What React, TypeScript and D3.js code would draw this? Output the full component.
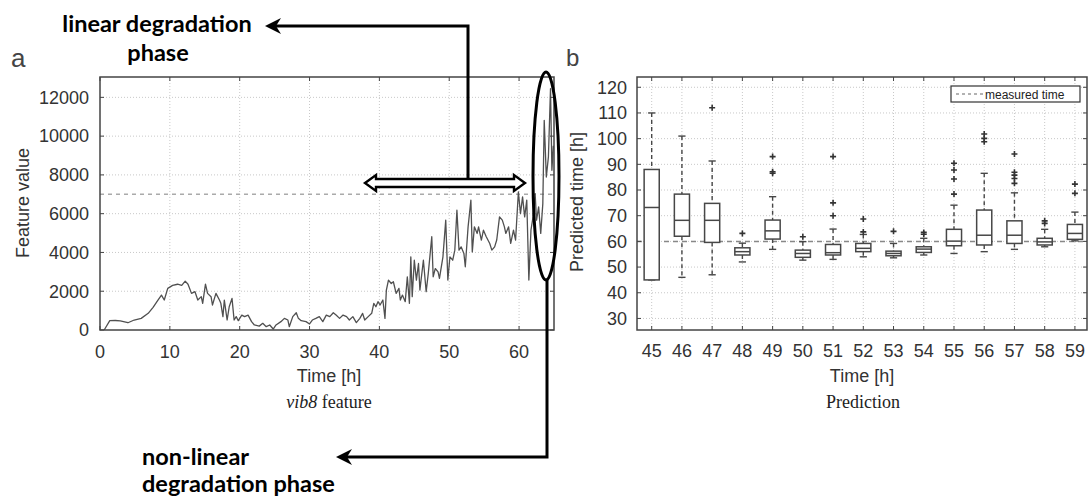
import React from "react";
import * as d3 from "d3";

// ---- Panel a: vib8 feature over time ----
const featureTime = [0.6,1.4,2.2,2.9,4.0,4.9,5.9,6.9,7.6,8.3,8.8,9.2,9.7,10.4,11.1,11.7,12.2,12.6,13.1,13.6,14.0,14.5,14.7,15.1,15.4,15.9,16.1,16.6,17.1,17.3,17.6,17.8,18.2,18.5,18.9,19.2,19.5,19.8,20.3,20.7,21.2,21.7,22.1,22.8,23.3,23.8,24.3,24.8,25.2,25.9,26.4,26.9,27.1,27.6,28.1,28.4,28.8,29.5,30.0,30.4,30.9,31.4,31.9,32.4,32.9,33.4,33.8,34.3,34.8,35.3,35.7,36.2,36.7,37.2,37.6,37.9,38.4,38.9,39.2,39.5,39.8,40.1,40.5,40.8,41.0,41.3,41.7,42.0,42.4,42.8,43.0,43.3,43.7,44.0,44.3,44.5,44.7,45.0,45.3,45.6,45.8,46.3,46.7,47.0,47.5,47.7,48.0,48.4,48.6,49.1,49.5,49.8,50.1,50.5,50.8,51.1,51.4,51.7,52.1,52.3,52.7,53.1,53.3,53.6,54.0,54.2,54.6,54.9,55.3,55.8,56.1,56.5,56.8,57.2,57.6,57.9,58.1,58.5,58.8,59.2,59.5,59.9,60.2,60.5,60.8,61.1,61.4,61.7,62.0,62.3,62.5,62.8,63.1,63.4,63.6,63.9,64.2,64.5,64.7,64.9];
const featureValue = [0,480,490,470,375,515,600,860,1170,1545,1800,1545,2145,2300,2360,2300,2520,2360,1890,1975,1545,1720,1375,2370,1890,1720,1290,1890,1545,1375,690,1545,515,1200,1630,515,690,480,770,690,770,430,260,200,345,170,260,50,260,430,600,515,170,690,890,600,480,430,310,515,600,690,430,770,690,890,770,600,770,690,515,690,380,600,860,515,690,860,1375,1200,1460,1290,1545,600,2060,2575,2400,2490,1890,2145,1545,1800,1460,2745,1375,3775,1720,3600,2575,3430,2060,3600,1975,2920,4810,2745,3170,3000,2660,3775,5665,2575,3775,3600,4120,6180,4120,4290,3950,3260,5320,6700,4030,5320,4980,5320,4640,5150,4810,4465,4120,4290,4640,5835,5665,5320,4980,5320,4465,5150,4640,7120,6000,6870,5835,6700,2575,5150,5835,7030,5665,6350,4980,6520,10815,7890,8930,12450,8240,9500];
const featureXTicks = [0,10,20,30,40,50,60];
const featureYTicks = [0,2000,4000,6000,8000,10000,12000];
const thresholdValue = 7000;

// ---- Panel b: predicted time boxplots ----
const predHours = [45,46,47,48,49,50,51,52,53,54,55,56,57,58,59];
const whiskerLow = [45,46,47,52,56.9,52.7,53,54,53.6,54.7,55.3,56,56.9,57.9,60.2];
const q1 = [45,62,59.6,54.7,60.9,53.8,54.7,56,54.4,55.7,58.3,58.6,59.2,58.6,60.8];
const median = [73.2,68.2,68.2,56,64.1,55.3,55.6,57.3,55.3,57,60.1,62.4,62.4,59.8,63.1];
const q3 = [88,78.4,74.8,57.5,68.3,56.6,58.8,59.2,56.2,57.9,64.7,72.2,68,61.2,66.6];
const whiskerHigh = [110,101,91.3,59.3,77.4,59.9,64.8,62.7,59.2,61.2,74.1,86.5,78.9,64.7,71.4];
const outliers = [[],[],[112],[63.1],[93,87.1,86.5],[61.8],[93,75,70],[68.7,63.7],[63.9],[63.5,62.8],[90.4,87.8,84.3,78.4],[101.8,100.1,98.8],[94,86.9,85.8,84.5,82.6],[68,67],[82.3,78.7]];
const predYTicks = [30,40,50,60,70,80,90,100,110,120];
const measuredTime = 60;

const SANS = "'Liberation Sans', Arial, sans-serif";
const SERIF = "'Liberation Serif', 'Times New Roman', serif";
const ANNO = "Lato, 'Open Sans', sans-serif";

export default function App() {
  const W = 1089, H = 497;
  const xL = d3.scaleLinear().domain([0, 65]).range([100, 554]);
  const yL = d3.scaleLinear().domain([0, 13050]).range([330, 77]);
  const xR = d3.scaleLinear().domain([44.514, 59.4]).range([637, 1087]);
  const yR = d3.scaleLinear().domain([25.5, 124]).range([330, 77]);

  const line = d3.line<number>()
    .x((_, i) => xL(featureTime[i]))
    .y((d) => yL(d));
  const pathD = line(featureValue) || "";

  const frame = "#444";
  const grid = "#c8c8c8";
  const boxW = xR(45.25) - xR(44.75);
  const capW = 3.6;

  return (
    <svg width={W} height={H} style={{ position: "absolute", left: 0, top: 0, background: "#fff" }}>
      <rect x={0} y={0} width={W} height={H} fill="#fff" />

      {/* ===== Panel a ===== */}
      <text x={11} y={67} fontFamily={SANS} fontSize={26} fill="#444">a</text>
      {featureXTicks.filter((t) => t > 0).map((t) => (
        <line key={"gx" + t} x1={xL(t)} x2={xL(t)} y1={yL.range()[1]} y2={yL.range()[0]} stroke={grid} strokeDasharray="1,2" />
      ))}
      {featureYTicks.filter((t) => t > 0).map((t) => (
        <line key={"gy" + t} x1={xL.range()[0]} x2={xL.range()[1]} y1={yL(t)} y2={yL(t)} stroke={grid} strokeDasharray="1,2" />
      ))}
      <line x1={xL.range()[0]} x2={xL.range()[1]} y1={yL(thresholdValue)} y2={yL(thresholdValue)} stroke="#aaa" strokeWidth={1.6} strokeDasharray="4,4" />
      <path d={pathD} fill="none" stroke="#505050" strokeWidth={1.3} strokeLinejoin="round" />
      {featureXTicks.map((t) => (
        <g key={"tx" + t}>
          <line x1={xL(t)} x2={xL(t)} y1={yL.range()[0]} y2={yL.range()[0] - 4} stroke={frame} />
          <line x1={xL(t)} x2={xL(t)} y1={yL.range()[1]} y2={yL.range()[1] + 4} stroke={frame} />
          <text x={xL(t)} y={357.5} textAnchor="middle" fontFamily={SANS} fontSize={18} fill="#333">{t}</text>
        </g>
      ))}
      {featureYTicks.map((t) => (
        <g key={"ty" + t}>
          <line x1={xL.range()[0]} x2={xL.range()[0] + 4} y1={yL(t)} y2={yL(t)} stroke={frame} />
          <line x1={xL.range()[1]} x2={xL.range()[1] - 4} y1={yL(t)} y2={yL(t)} stroke={frame} />
          <text x={89} y={yL(t)} dy="0.35em" textAnchor="end" fontFamily={SANS} fontSize={18} fill="#333">{t}</text>
        </g>
      ))}
      <rect x={xL.range()[0]} y={yL.range()[1]} width={xL.range()[1] - xL.range()[0]} height={yL.range()[0] - yL.range()[1]} fill="none" stroke={frame} strokeWidth={1.5} />
      <text transform="translate(29,203) rotate(-90)" textAnchor="middle" fontFamily={SANS} fontSize={18} fill="#333">Feature value</text>
      <text x={329} y={382} textAnchor="middle" fontFamily={SANS} fontSize={18} fill="#333">Time [h]</text>
      <text x={329} y={408} textAnchor="middle" fontFamily={SERIF} fontSize={18} fill="#222">
        <tspan fontStyle="italic">vib8</tspan> feature
      </text>

      {/* ===== Panel b ===== */}
      <text x={566} y={66} fontFamily={SANS} fontSize={24} fill="#444">b</text>
      {predYTicks.map((t) => (
        <line key={"rgy" + t} x1={xR.range()[0]} x2={xR.range()[1]} y1={yR(t)} y2={yR(t)} stroke={grid} strokeDasharray="1,2" />
      ))}
      {predHours.map((h) => (
        <line key={"rgx" + h} x1={xR(h)} x2={xR(h)} y1={yR.range()[1]} y2={yR.range()[0]} stroke={grid} strokeDasharray="1,2" />
      ))}
      <line x1={xR.range()[0]} x2={xR.range()[1]} y1={yR(measuredTime)} y2={yR(measuredTime)} stroke="#888" strokeWidth={1.5} strokeDasharray="5,4" />
      {predHours.map((h, i) => {
        const cx = xR(h);
        return (
          <g key={"box" + h} stroke="#474747" fill="none">
            <line x1={cx} x2={cx} y1={yR(whiskerHigh[i])} y2={yR(q3[i])} strokeWidth={1.4} strokeDasharray="4,3" />
            <line x1={cx} x2={cx} y1={yR(q1[i])} y2={yR(whiskerLow[i])} strokeWidth={1.4} strokeDasharray="4,3" />
            <line x1={cx - capW} x2={cx + capW} y1={yR(whiskerHigh[i])} y2={yR(whiskerHigh[i])} strokeWidth={1.4} />
            <line x1={cx - capW} x2={cx + capW} y1={yR(whiskerLow[i])} y2={yR(whiskerLow[i])} strokeWidth={1.4} />
            <rect x={cx - boxW / 2} y={yR(q3[i])} width={boxW} height={Math.max(1, yR(q1[i]) - yR(q3[i]))} fill="#fff" strokeWidth={1.5} />
            <line x1={cx - boxW / 2} x2={cx + boxW / 2} y1={yR(median[i])} y2={yR(median[i])} strokeWidth={1.5} />
            {outliers[i].map((o, j) => (
              <path key={j} d={`M${cx - 3},${yR(o)}H${cx + 3}M${cx},${yR(o) - 3}V${yR(o) + 3}`} stroke="#333" strokeWidth={1.6} />
            ))}
          </g>
        );
      })}
      {predHours.map((h) => (
        <g key={"rtx" + h}>
          <line x1={xR(h)} x2={xR(h)} y1={yR.range()[0]} y2={yR.range()[0] - 4} stroke={frame} />
          <line x1={xR(h)} x2={xR(h)} y1={yR.range()[1]} y2={yR.range()[1] + 4} stroke={frame} />
          <text x={xR(h)} y={356.5} textAnchor="middle" fontFamily={SANS} fontSize={18} fill="#333">{h}</text>
        </g>
      ))}
      {predYTicks.map((t) => (
        <g key={"rty" + t}>
          <line x1={xR.range()[0]} x2={xR.range()[0] + 4} y1={yR(t)} y2={yR(t)} stroke={frame} />
          <line x1={xR.range()[1]} x2={xR.range()[1] - 4} y1={yR(t)} y2={yR(t)} stroke={frame} />
          <text x={627} y={yR(t)} dy="0.35em" textAnchor="end" fontFamily={SANS} fontSize={18} fill="#333">{t}</text>
        </g>
      ))}
      <rect x={xR.range()[0]} y={yR.range()[1]} width={xR.range()[1] - xR.range()[0]} height={yR.range()[0] - yR.range()[1]} fill="none" stroke={frame} strokeWidth={1.5} />
      <text transform="translate(583,202) rotate(-90)" textAnchor="middle" fontFamily={SANS} fontSize={18} fill="#333">Predicted time [h]</text>
      <text x={862} y={382} textAnchor="middle" fontFamily={SANS} fontSize={18} fill="#333">Time [h]</text>
      <text x={863} y={408} textAnchor="middle" fontFamily={SERIF} fontSize={18} fill="#222">Prediction</text>
      <rect x={951} y={86} width={129} height={16} fill="#fff" stroke="#333" strokeWidth={1.2} />
      <line x1={956} x2={984} y1={94} y2={94} stroke="#999" strokeWidth={1.4} strokeDasharray="3,3" />
      <text x={985} y={98.5} fontFamily={SANS} fontSize={12} fill="#222">measured time</text>

      {/* ===== Annotations ===== */}
      <g fontFamily={ANNO} fontWeight="bold" fontSize={23.5} fill="#000">
        <text x={157} y={32} textAnchor="middle">linear degradation</text>
        <text x={158} y={61} textAnchor="middle">phase</text>
        <text x={142} y={465}>non-linear</text>
        <text x={142} y={492}>degradation phase</text>
      </g>
      <path d="M468,179 V26 H276" fill="none" stroke="#000" strokeWidth={3} />
      <path d="M265,26 L281,18 L276,26 L281,34 Z" fill="#000" />
      <path d="M365,183 L376,175 L376,179 L514,179 L514,175 L525,183 L514,191 L514,187 L376,187 L376,191 Z" fill="#fff" stroke="#000" strokeWidth={2.4} strokeLinejoin="miter" />
      <ellipse cx={546} cy={176} rx={13} ry={104} fill="none" stroke="#000" strokeWidth={3} />
      <path d="M547,280 V457 H346" fill="none" stroke="#000" strokeWidth={3} />
      <path d="M336,457 L352,449 L347,457 L352,465 Z" fill="#000" />
    </svg>
  );
}
